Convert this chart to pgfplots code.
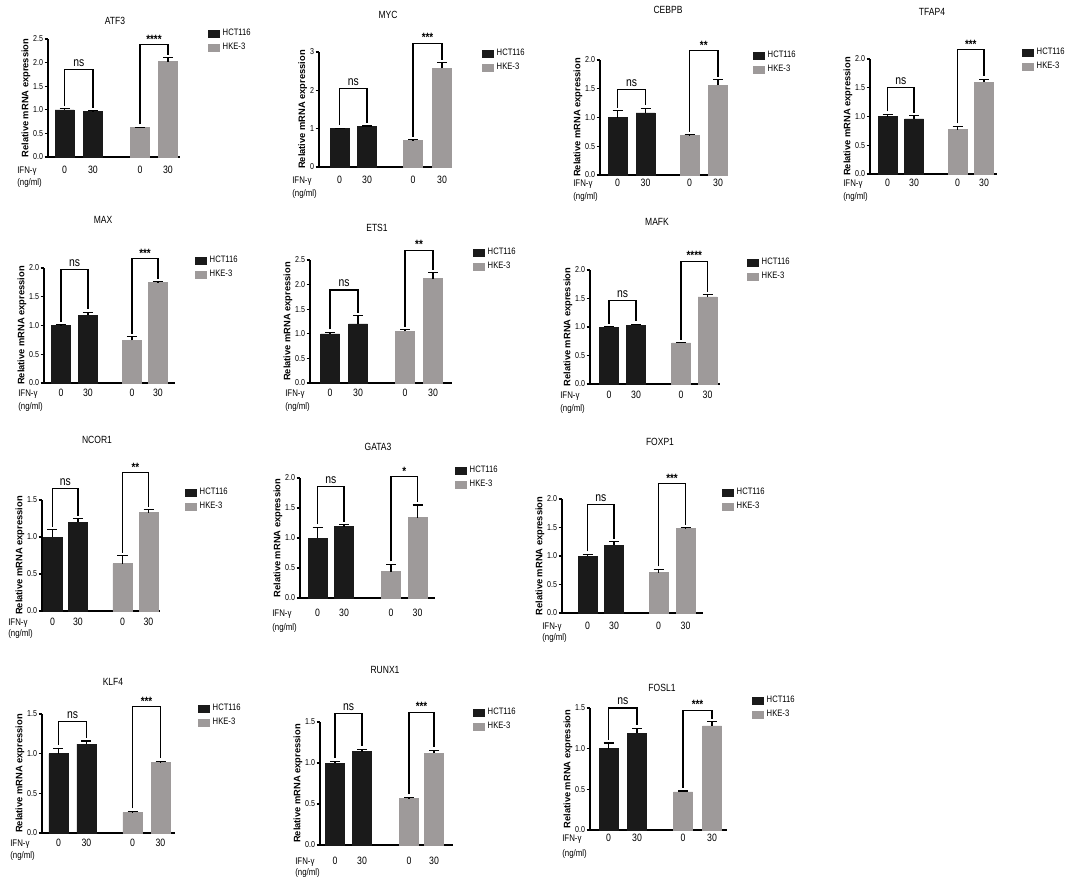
\documentclass[border=0pt]{standalone}
\usepackage{pgfplots}
\pgfplotsset{compat=1.18}
\usepackage{fontspec}
\setmainfont{Liberation Sans}[FakeStretch=0.82]
\newfontfamily\ylfam{Liberation Sans}
\definecolor{hctc}{HTML}{1A1A1A}
\definecolor{hkec}{HTML}{9E9A9A}
\newcommand\titlefont{\fontsize{7.8}{9}\selectfont}
\newcommand\legfont{\fontsize{7}{8}\selectfont}
\newcommand\xfont{\fontsize{7.2}{8}\selectfont}
\newcommand\xnumfont{\fontsize{8}{9}\selectfont}
\newcommand\ytfont{\fontsize{6.5}{7}\selectfont}
\newcommand\ylfont{\ylfam\bfseries\fontsize{7}{8}\selectfont}
\newcommand\nsfont{\fontsize{9.5}{10}\selectfont}
\newcommand\starfont{\bfseries\fontsize{9}{10}\selectfont}
\tikzset{
 nsl/.style={font=\nsfont, inner sep=2pt},
 stl/.style={font=\starfont, inner sep=1pt},
}
\pgfplotsset{
 prism/.style={scale only axis, anchor=south west, xmin=0, ymin=0,
  axis x line*=bottom, axis y line*=left,
  axis line style={line width=0.8pt,-}, xtick=\empty,
  tick align=outside, major tick length=2.5pt,
  ytick style={line width=0.8pt,black},
  yticklabel style={font=\ytfont, inner sep=1pt},
  /pgf/number format/assume math mode=true,
  /pgf/number format/fixed, /pgf/number format/fixed zerofill,
  /pgf/number format/precision=1,
  ylabel={Relative mRNA expression}, ylabel style={font=\ylfont, inner sep=1pt},
  clip=false, legend cell align=left,
  legend style={draw=none, fill=none, inner sep=0pt, row sep=2pt, font=\legfont, nodes={inner ysep=1pt, inner xsep=2.2pt}},
  enlargelimits=false},
 hct/.style={ybar, bar width=19, bar shift=0pt, fill=hctc, draw=hctc, line width=0.4pt,
  legend image code/.code={\fill[hctc] (0pt,-2.6pt) rectangle (8.25pt,2.6pt);}},
 hke/.style={ybar, bar width=19, bar shift=0pt, fill=hkec, draw=hkec, line width=0.4pt,
  legend image code/.code={\fill[hkec] (0pt,-2.6pt) rectangle (8.25pt,2.6pt);}},
 errline/.style={forget plot, black, line width=0.8pt, sharp plot, no marks},
 brkst/.style={black, line width=0.9pt, sharp plot, no marks, forget plot},
 leg/.style 2 args={legend style={at={(0,0)}, anchor=north west, xshift=#1, yshift=#2}},
}
% one error bar (upward): x value error
\newcommand\eb[3]{%
 \pgfmathsetmacro\ebtop{#2+#3}\pgfmathsetmacro\ebl{#1-5}\pgfmathsetmacro\ebr{#1+5}%
 \edef\ebtmp{\noexpand\addplot[errline] coordinates {(#1,#2) (#1,\ebtop)};
  \noexpand\addplot[errline] coordinates {(\ebl,\ebtop) (\ebr,\ebtop)};}%
 \ebtmp
}
\newcommand\ebp[6]{\eb{#1}{#2}{#3}\eb{#4}{#5}{#6}}
% bracket: xl xr xm al ar top style label
\newcommand\brk[8]{%
 \addplot[brkst] coordinates {(#1,#4) (#1,#6) (#2,#6) (#2,#5)};
 \node[anchor=south, #7] at (axis cs:#3,#6) {#8};
}
% x labels: ifnx D1 D2 c1 c2 c3 c4
\newcommand\xlabs[7]{%
 \node[anchor=base west,font=\xfont,inner sep=0pt,yshift={-#2*0.75pt-2.6pt}] at (axis cs:#1,0) {IFN-γ};
 \node[anchor=base west,font=\xfont,inner sep=0pt,yshift={-#3*0.75pt-2.6pt}] at (axis cs:#1,0) {(ng/ml)};
 \node[anchor=base,font=\xnumfont,inner sep=0pt,yshift={-#2*0.75pt-2.9pt}] at (axis cs:#4,0) {0};
 \node[anchor=base,font=\xnumfont,inner sep=0pt,yshift={-#2*0.75pt-2.9pt}] at (axis cs:#5,0) {30};
 \node[anchor=base,font=\xnumfont,inner sep=0pt,yshift={-#2*0.75pt-2.9pt}] at (axis cs:#6,0) {0};
 \node[anchor=base,font=\xnumfont,inner sep=0pt,yshift={-#2*0.75pt-2.9pt}] at (axis cs:#7,0) {30};
}
\begin{document}
\begin{tikzpicture}
\useasboundingbox (0,0) rectangle (798.75pt,-658.5pt);
% ATF3
\begin{axis}[prism, at={(48*0.75pt,-157*0.75pt)}, width=99pt, height=88.5pt, xmax=132, ymax=2.5, ytick={0,0.5,1,1.5,2,2.5}, leg={120pt}{97pt}]
\addplot[hct] coordinates {(16.5,1.00) (45,0.97)}; \addlegendentry{HCT116}
\addplot[hke] coordinates {(92,0.62) (120,2.02)}; \addlegendentry{HKE-3}
\ebp{16.5}{1.00}{0.02}{45}{0.97}{0.01}
\ebp{92}{0.62}{0.01}{120}{2.02}{0.08}
\brk{16.5}{45}{30.75}{1.08}{1.04}{1.85}{nsl}{ns}
\brk{92}{120}{106}{0.69}{2.16}{2.38}{stl}{****}
\xlabs{-31}{13}{25}{16.5}{45}{92}{120}
\end{axis}
% MYC
\begin{axis}[prism, at={(319*0.75pt,-167*0.75pt)}, width=99.75pt, height=86.25pt, xmax=133, ymax=3, ytick={0,1,2,3}, /pgf/number format/precision=0, leg={122.25pt}{89.5pt}]
\addplot[hct] coordinates {(20.5,1.00) (48,1.06)}; \addlegendentry{HCT116}
\addplot[hke] coordinates {(94,0.70) (123,2.57)}; \addlegendentry{HKE-3}
\ebp{20.5}{1.00}{0.01}{48}{1.06}{0.01}
\ebp{94}{0.70}{0.01}{123}{2.57}{0.15}
\brk{20.5}{48}{34.25}{1.09}{1.15}{2.04}{nsl}{ns}
\brk{94}{123}{108.5}{0.79}{2.80}{3.22}{stl}{***}
\xlabs{-27}{13}{26}{20.5}{48}{94}{123}
\end{axis}
% CEBPB
\begin{axis}[prism, at={(600*0.75pt,-175*0.75pt)}, width=96pt, height=86.25pt, xmax=128, ymax=2, ytick={0,0.5,1,1.5,2}, leg={114.75pt}{94pt}]
\addplot[hct] coordinates {(17.5,1.00) (45.5,1.08)}; \addlegendentry{HCT116}
\addplot[hke] coordinates {(89.5,0.69) (118,1.56)}; \addlegendentry{HKE-3}
\ebp{17.5}{1.00}{0.12}{45.5}{1.08}{0.08}
\ebp{89.5}{0.69}{0.01}{118}{1.56}{0.10}
\brk{17.5}{45.5}{31.5}{1.17}{1.21}{1.49}{nsl}{ns}
\brk{89.5}{118}{103.75}{0.75}{1.71}{2.16}{stl}{**}
\xlabs{-27}{8}{21}{17.5}{45.5}{89.5}{118}
\end{axis}
% TFAP4
\begin{axis}[prism, at={(870*0.75pt,-174*0.75pt)}, width=95.25pt, height=86.25pt, xmax=127, ymax=2, ytick={0,0.5,1,1.5,2}, leg={114pt}{95.5pt}]
\addplot[hct] coordinates {(17.5,1.00) (44,0.96)}; \addlegendentry{HCT116}
\addplot[hke] coordinates {(87.5,0.77) (114,1.60)}; \addlegendentry{HKE-3}
\ebp{17.5}{1.00}{0.04}{44}{0.96}{0.05}
\ebp{87.5}{0.77}{0.06}{114}{1.60}{0.05}
\brk{17.5}{44}{30.75}{1.09}{1.06}{1.51}{nsl}{ns}
\brk{87.5}{114}{100.75}{0.88}{1.70}{2.16}{stl}{***}
\xlabs{-27}{9}{22}{17.5}{44}{87.5}{114}
\end{axis}
% MAX
\begin{axis}[prism, at={(44*0.75pt,-383*0.75pt)}, width=98.25pt, height=86.25pt, xmax=131, ymax=2, ytick={0,0.5,1,1.5,2}, leg={113.25pt}{96.25pt}]
\addplot[hct] coordinates {(17,1.00) (44,1.18)}; \addlegendentry{HCT116}
\addplot[hke] coordinates {(88,0.74) (114,1.75)}; \addlegendentry{HKE-3}
\ebp{17}{1.00}{0.01}{44}{1.18}{0.05}
\ebp{88}{0.74}{0.07}{114}{1.75}{0.01}
\brk{17}{44}{30.5}{1.06}{1.28}{1.97}{nsl}{ns}
\brk{88}{114}{101}{0.86}{1.81}{2.16}{stl}{***}
\xlabs{-26}{10}{23}{17}{44}{88}{114}
\end{axis}
% ETS1
\begin{axis}[prism, at={(310*0.75pt,-383*0.75pt)}, width=106.5pt, height=92.25pt, xmax=142, ymax=2.5, ytick={0,0.5,1,1.5,2,2.5}, leg={122.25pt}{102.25pt}]
\addplot[hct] coordinates {(20,1.00) (48,1.20)}; \addlegendentry{HCT116}
\addplot[hke] coordinates {(95,1.05) (123,2.12)}; \addlegendentry{HKE-3}
\ebp{20}{1.00}{0.03}{48}{1.20}{0.17}
\ebp{95}{1.05}{0.03}{123}{2.12}{0.12}
\brk{20}{48}{34}{1.09}{1.43}{1.89}{nsl}{ns}
\brk{95}{123}{109}{1.14}{2.30}{2.70}{stl}{**}
\xlabs{-25}{10}{23}{20}{48}{95}{123}
\end{axis}
% MAFK
\begin{axis}[prism, at={(590*0.75pt,-384*0.75pt)}, width=97.5pt, height=85.5pt, xmax=130, ymax=2, ytick={0,0.5,1,1.5,2}, leg={117.75pt}{95.5pt}]
\addplot[hct] coordinates {(19,1.00) (46,1.03)}; \addlegendentry{HCT116}
\addplot[hke] coordinates {(91,0.72) (117.5,1.53)}; \addlegendentry{HKE-3}
\ebp{19}{1.00}{0.01}{46}{1.03}{0.02}
\ebp{91}{0.72}{0.01}{117.5}{1.53}{0.04}
\brk{19}{46}{32.5}{1.06}{1.10}{1.46}{nsl}{ns}
\brk{91}{117.5}{104.25}{0.78}{1.62}{2.15}{stl}{****}
\xlabs{-30}{11}{24}{19}{46}{91}{117.5}
\end{axis}
% NCOR1
\begin{axis}[prism, at={(42*0.75pt,-611*0.75pt)}, width=88.5pt, height=83.25pt, xmax=118, ymax=1.5, ytick={0,0.5,1,1.5}, leg={107.25pt}{93.25pt}]
\addplot[hct] coordinates {(10.5,1.00) (36,1.20)}; \addlegendentry{HCT116}
\addplot[hke] coordinates {(80.5,0.64) (106.5,1.33)}; \addlegendentry{HKE-3}
\ebp{10.5}{1.00}{0.10}{36}{1.20}{0.05}
\ebp{80.5}{0.64}{0.11}{106.5}{1.33}{0.04}
\brk{10.5}{36}{23.25}{1.14}{1.29}{1.66}{nsl}{ns}
\brk{80.5}{106.5}{93.5}{0.79}{1.41}{1.87}{stl}{**}
\xlabs{-34}{11}{22}{10.5}{36}{80.5}{106.5}
\end{axis}
% GATA3
\begin{axis}[prism, at={(300*0.75pt,-598*0.75pt)}, width=101.25pt, height=90pt, xmax=135, ymax=2, ytick={0,0.5,1,1.5,2}, leg={116.25pt}{100pt}]
\addplot[hct] coordinates {(17.5,1.00) (44,1.19)}; \addlegendentry{HCT116}
\addplot[hke] coordinates {(91,0.44) (117.5,1.34)}; \addlegendentry{HKE-3}
\ebp{17.5}{1.00}{0.18}{44}{1.19}{0.03}
\ebp{91}{0.44}{0.12}{117.5}{1.34}{0.21}
\brk{17.5}{44}{30.75}{1.23}{1.27}{1.86}{nsl}{ns}
\brk{91}{117.5}{104.25}{0.61}{1.60}{2.02}{stl}{*}
\xlabs{-28}{15}{29}{17.5}{44}{91}{117.5}
\end{axis}
% FOXP1
\begin{axis}[prism, at={(562*0.75pt,-613*0.75pt)}, width=105.75pt, height=85.5pt, xmax=141, ymax=2, ytick={0,0.5,1,1.5,2}, leg={120pt}{94.75pt}]
\addplot[hct] coordinates {(25.5,1.00) (52,1.19)}; \addlegendentry{HCT116}
\addplot[hke] coordinates {(96.5,0.71) (123.5,1.48)}; \addlegendentry{HKE-3}
\ebp{25.5}{1.00}{0.03}{52}{1.19}{0.06}
\ebp{96.5}{0.71}{0.06}{123.5}{1.48}{0.02}
\brk{25.5}{52}{38.75}{1.08}{1.30}{1.90}{nsl}{ns}
\brk{96.5}{123.5}{110}{0.82}{1.55}{2.27}{stl}{***}
\xlabs{-20}{13}{24}{25.5}{52}{96.5}{123.5}
\end{axis}
% KLF4
\begin{axis}[prism, at={(42*0.75pt,-833*0.75pt)}, width=99.75pt, height=89.25pt, xmax=133, ymax=1.5, ytick={0,0.5,1,1.5}, leg={117pt}{97.75pt}]
\addplot[hct] coordinates {(16.5,1.00) (44.5,1.12)}; \addlegendentry{HCT116}
\addplot[hke] coordinates {(90.5,0.26) (118.5,0.89)}; \addlegendentry{HKE-3}
\ebp{16.5}{1.00}{0.07}{44.5}{1.12}{0.04}
\ebp{90.5}{0.26}{0.01}{118.5}{0.89}{0.01}
\brk{16.5}{44.5}{30.5}{1.11}{1.20}{1.41}{nsl}{ns}
\brk{90.5}{118.5}{104.5}{0.31}{0.94}{1.59}{stl}{***}
\xlabs{-32}{10}{22}{16.5}{44.5}{90.5}{118.5}
\end{axis}
% RUNX1
\begin{axis}[prism, at={(320*0.75pt,-845*0.75pt)}, width=99.75pt, height=92.25pt, xmax=133, ymax=1.5, ytick={0,0.5,1,1.5}, leg={114.75pt}{103.75pt}]
\addplot[hct] coordinates {(15,1.00) (42,1.14)}; \addlegendentry{HCT116}
\addplot[hke] coordinates {(89,0.57) (114,1.12)}; \addlegendentry{HKE-3}
\ebp{15}{1.00}{0.02}{42}{1.14}{0.03}
\ebp{89}{0.57}{0.005}{114}{1.12}{0.03}
\brk{15}{42}{28.5}{1.06}{1.21}{1.60}{nsl}{ns}
\brk{89}{114}{101.5}{0.62}{1.19}{1.62}{stl}{***}
\xlabs{-25}{16}{27.5}{15}{42}{89}{114}
\end{axis}
% FOSL1
\begin{axis}[prism, at={(590*0.75pt,-830*0.75pt)}, width=102.75pt, height=91.5pt, xmax=137, ymax=1.5, ytick={0,0.5,1,1.5}, leg={121.5pt}{101.5pt}]
\addplot[hct] coordinates {(18.5,1.00) (47,1.19)}; \addlegendentry{HCT116}
\addplot[hke] coordinates {(93,0.47) (122,1.28)}; \addlegendentry{HKE-3}
\ebp{18.5}{1.00}{0.07}{47}{1.19}{0.06}
\ebp{93}{0.47}{0.01}{122}{1.28}{0.05}
\brk{18.5}{47}{32.75}{1.11}{1.29}{1.50}{nsl}{ns}
\brk{93}{122}{107.5}{0.52}{1.37}{1.47}{stl}{***}
\xlabs{-28}{8}{23}{18.5}{47}{93}{122}
\end{axis}
% titles
\node[font=\titlefont] at (115*0.75pt,-21*0.75pt) {ATF3};
\node[font=\titlefont] at (388*0.75pt,-15*0.75pt) {MYC};
\node[font=\titlefont] at (668*0.75pt,-10*0.75pt) {CEBPB};
\node[font=\titlefont] at (932*0.75pt,-12*0.75pt) {TFAP4};
\node[font=\titlefont] at (103*0.75pt,-220*0.75pt) {MAX};
\node[font=\titlefont] at (377*0.75pt,-228*0.75pt) {ETS1};
\node[font=\titlefont] at (657*0.75pt,-222*0.75pt) {MAFK};
\node[font=\titlefont] at (97*0.75pt,-440*0.75pt) {NCOR1};
\node[font=\titlefont] at (378*0.75pt,-447*0.75pt) {GATA3};
\node[font=\titlefont] at (660*0.75pt,-442*0.75pt) {FOXP1};
\node[font=\titlefont] at (113*0.75pt,-682*0.75pt) {KLF4};
\node[font=\titlefont] at (385*0.75pt,-670*0.75pt) {RUNX1};
\node[font=\titlefont] at (662*0.75pt,-688*0.75pt) {FOSL1};
\end{tikzpicture}
\end{document}
